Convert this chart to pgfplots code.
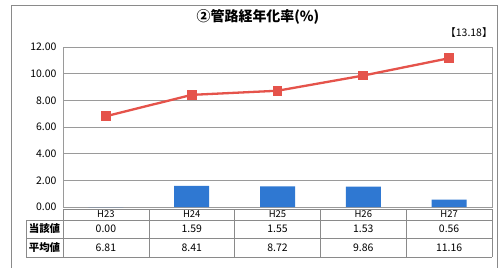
\documentclass[border=0pt]{standalone}
\usepackage{pgfplots}
\pgfplotsset{compat=1.18}
\usepackage{fontspec}
\setmainfont{Noto Sans CJK JP}
\definecolor{barblue}{HTML}{2F78D2}
\definecolor{linered}{HTML}{E5534B}
\definecolor{gridgray}{HTML}{9A9A9A}
\definecolor{framegray}{HTML}{8A8A8A}
\begin{document}
\begin{tikzpicture}[x=1bp,y=1bp]
\useasboundingbox (0,0) rectangle (502,-267);
\fill[white] (0,0) rectangle (502,-267);
% outer frame
\draw[framegray, line width=0.6bp] (11,-270) -- (11,-5) -- (497,-5) -- (497,-270);
\node[font=\bfseries\fontsize{14}{16}\selectfont] at (258,-17) {②管路経年化率(\%)};
\node[font=\fontsize{10.5}{12}\selectfont, anchor=east] at (496,-33) {【13.18】};
\begin{axis}[
  at={(63bp,-207bp)}, anchor=south west,
  width=429bp, height=160bp, scale only axis,
  xmin=-0.5, xmax=4.5, ymin=0, ymax=12,
  ytick={0,2,4,6,8,10,12},
  xtick=\empty,
  ymajorgrids, grid style={gridgray, line width=0.5bp},
  axis line style={gridgray, line width=0.5bp},
  major tick length=0pt,
  y tick label style={font=\fontsize{10.5}{12}\selectfont, xshift=-3bp},
  yticklabel style={/pgf/number format/.cd, fixed, fixed zerofill, precision=2, assume math mode=true},
  clip=false,
]
\addplot[ybar, bar width=35bp, fill=barblue, draw=none] coordinates {(0,0) (1,1.59) (2,1.55) (3,1.53) (4,0.56)};
\addplot[linered, line width=2.3bp, mark=square*, mark size=3.8bp, mark options={fill=linered, draw=linered}] coordinates {(0,6.81) (1,8.41) (2,8.72) (3,9.86) (4,11.16)};
\end{axis}
% data table
\begin{scope}[framegray, line width=0.6bp]
\draw (63,-209) -- (492,-209);
\draw (26,-220) -- (492,-220);
\draw (26,-238) -- (492,-238);
\draw (26,-257) -- (492,-257);
\draw (26,-220) -- (26,-257);
\foreach \xx in {63,148.8,234.6,320.4,406.2,492} {\draw (\xx,-209) -- (\xx,-257);}
\end{scope}
\begin{scope}[font=\fontsize{10.5}{12}\selectfont]
\foreach \lab [count=\i from 0] in {H23,H24,H25,H26,H27} {\node[font=\fontsize{9.5}{10}\selectfont] at (105.9+85.8*\i,-214.5) {\lab};}
\foreach \v [count=\i from 0] in {0.00,1.59,1.55,1.53,0.56} {\node at (105.9+85.8*\i,-229) {\v};}
\foreach \v [count=\i from 0] in {6.81,8.41,8.72,9.86,11.16} {\node at (105.9+85.8*\i,-247.5) {\v};}
\node[font=\bfseries\fontsize{10.5}{12}\selectfont] at (44.5,-229) {当該値};
\node[font=\bfseries\fontsize{10.5}{12}\selectfont] at (44.5,-247.5) {平均値};
\end{scope}
\end{tikzpicture}
\end{document}
